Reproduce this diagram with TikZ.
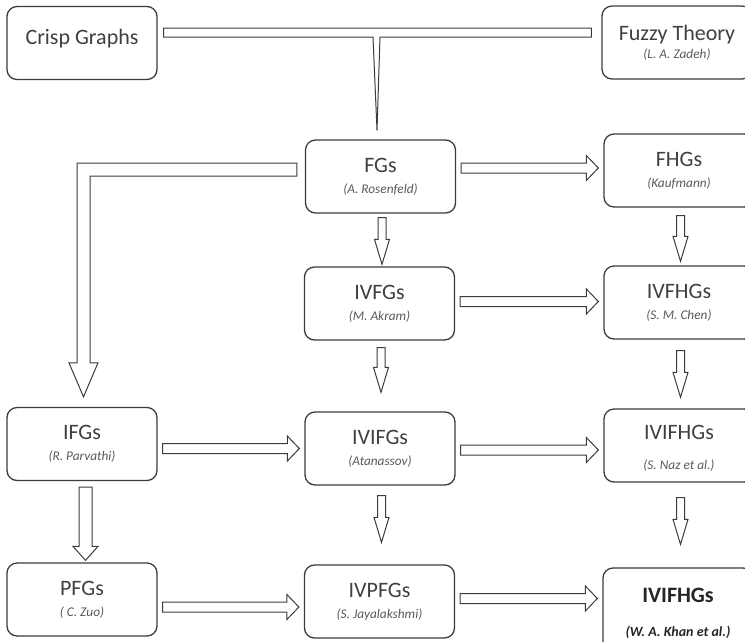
\documentclass[tikz,border=0pt]{standalone}
\usepackage{fontspec}
\setmainfont{Carlito}
\usetikzlibrary{calc}
\definecolor{edge}{RGB}{60,60,60}
\definecolor{ink}{RGB}{64,64,64}
\definecolor{subink}{RGB}{90,90,90}
\newcommand\subt[1]{{\fontsize{13.3}{14}\selectfont\itshape\color{subink}#1}}
\tikzset{
  box/.style={rectangle, rounded corners=10pt, draw=edge, line width=1.3pt,
    fill=white, minimum width=150pt, minimum height=73pt, align=center,
    text=ink, font=\fontsize{22}{21}\selectfont, inner sep=0pt},
  barrow/.style={draw=edge, line width=1pt, fill=white, line join=miter},
}
% block arrow to the right, #1 = shift down from source centre
\newcommand\hflow[3][0]{%
  \draw[barrow] let \p1=($(#2.east)+(5,#1)$), \p2=($(#3.west)+(-5,#1)$) in
    (\x1,\y1+5pt) -- (\x2-12pt,\y1+5pt) -- (\x2-12pt,\y1+12.5pt) -- (\x2,\y1)
    -- (\x2-12pt,\y1-12.5pt) -- (\x2-12pt,\y1-5pt) -- (\x1,\y1-5pt) -- cycle;}
% block arrow downwards, #3/#4 = gaps at start and end
\newcommand\vflow[4]{%
  \draw[barrow] let \p1=($(#1.south)+(1.5,#3)$), \p2=($(#2.north)+(1.5,-#4)$) in
    (\x1-4pt,\y1) -- (\x1-4pt,\y2+25pt) -- (\x1-7.5pt,\y2+25pt) -- (\x1,\y2)
    -- (\x1+7.5pt,\y2+25pt) -- (\x1+4pt,\y2+25pt) -- (\x1+4pt,\y1) -- cycle;}

\begin{document}
\begin{tikzpicture}[x=1pt, y=-1pt]
  \useasboundingbox (0,0) rectangle (745,641);
  \clip (0,0) rectangle (745,641);

  % sources
  \node[box, text depth=12pt] (crisp) at (82,43) {Crisp Graphs};
  \node[box] (fuzzy) at (677,42.5) {Fuzzy Theory\\[-3pt]\subt{(L. A. Zadeh)}};

  % first generation
  \node[box] (fgs)   at (380.5,176.5) {FGs\\\subt{(A. Rosenfeld)}};
  \node[box] (fhgs)  at (679,170.5)   {FHGs\\\subt{(Kaufmann)}};
  \node[box] (ivfgs) at (379.5,303.5) {IVFGs\\\subt{(M. Akram)}};
  \node[box] (ivfhgs) at (679,302.5)  {IVFHGs\\\subt{(S. M. Chen)}};

  % intuitionistic row
  \node[box] (ifgs)    at (82,444)    {IFGs\\\subt{(R. Parvathi)}};
  \node[box] (ivifgs)  at (380,448.5) {IVIFGs\\\subt{(Atanassov)}};
  \node[box] (ivifhgs) at (679,445.5) {\rule{0pt}{20pt}IVIFHGs\\[9pt]\subt{(S. Naz et al.)}};

  % bottom row
  \node[box] (pfgs)   at (82,599.5)    {PFGs\\\subt{( C. Zuo)}};
  \node[box] (ivpfgs) at (379.5,601.5) {IVPFGs\\\subt{(S. Jayalakshmi)}};
  \node[box, minimum height=90pt, text=black!85,
    font=\fontsize{22}{21}\selectfont\bfseries] (khan) at (678,613)
    {IVIFHGs\\[13pt]{\fontsize{14}{16}\selectfont\itshape (W. A. Khan et al.)}};

  % crisp graphs + fuzzy theory join into FGs
  \draw[barrow] let \p1=($(crisp.east)+(6,0)$), \p2=($(fuzzy.west)+(-10,0)$),
      \p3=($(fgs.north)+(-3.5,-9)$) in
    (\x1,\y1+15pt) -- (\x2,\y1+15pt) -- (\x2,\y1+6pt) -- (\x3+3pt,\y1+6pt)
    -- (\x3,\y3) -- (\x3-4pt,\y1+6pt) -- (\x1,\y1+6pt) -- cycle;

  % FGs down to IFGs
  \draw[barrow] let \p1=($(fgs.west)+(-8,0)$), \p2=($(ifgs.north)+(1.5,-10)$) in
    (\x1,\y1+13.5pt) -- (\x2-6.5pt,\y1+13.5pt) -- (\x2-6.5pt,\y2+34pt)
    -- (\x2-14.5pt,\y2+34pt) -- (\x2,\y2) -- (\x2+14.5pt,\y2+34pt)
    -- (\x2+6.5pt,\y2+34pt) -- (\x2+6.5pt,\y1+0.5pt) -- (\x1,\y1+0.5pt) -- cycle;

  % IFGs down to PFGs
  \draw[barrow] let \p1=($(ifgs.south)+(3.5,6)$), \p2=($(pfgs.north)+(3.5,-2)$) in
    (\x1-6.5pt,\y1) -- (\x1-6.5pt,\y2+14pt) -- (\x1-12.5pt,\y2+14pt) -- (\x1,\y2)
    -- (\x1+12.5pt,\y2+14pt) -- (\x1+6.5pt,\y2+14pt) -- (\x1+6.5pt,\y1) -- cycle;

  \hflow[-8.5]{fgs}{fhgs}
  \hflow[-2]{ivfgs}{ivfhgs}
  \hflow[4.5]{ifgs}{ivifgs}
  \hflow[1.5]{ivifgs}{ivifhgs}
  \hflow[7.5]{pfgs}{ivpfgs}
  \hflow[-3]{ivpfgs}{khan}

  \vflow{fgs}{ivfgs}{4}{2}
  \vflow{ivfgs}{ivifgs}{7}{19}
  \vflow{ivifgs}{ivpfgs}{10}{22}
  \vflow{fhgs}{ivfhgs}{8}{4}
  \vflow{ivfhgs}{ivifhgs}{11}{11}
  \vflow{ivifhgs}{khan}{15}{23}
\end{tikzpicture}
\end{document}
